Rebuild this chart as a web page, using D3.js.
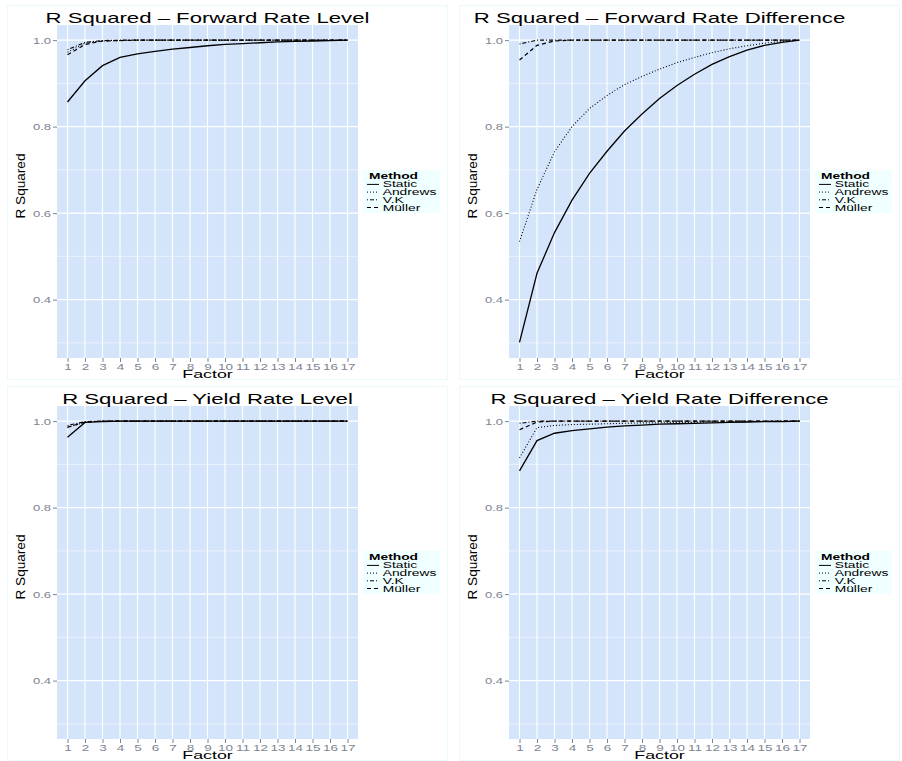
<!DOCTYPE html>
<html>
<head>
<meta charset="utf-8">
<script src="https://cdn.jsdelivr.net/npm/d3@7"></script>
<style>
  body { margin: 0; background: #fff; }
  svg { display: block; font-family: "Liberation Sans", Arial, sans-serif; }
</style>
</head>
<body>
<svg id="chart" width="902" height="761"></svg>
<script>
// categories and ticks
const factors = ["1","2","3","4","5","6","7","8","9","10","11","12","13","14","15","16","17"];
const methods = ["Static", "Andrews", "V.K", "Müller"];
const yTicks = [0.4, 0.6, 0.8, 1.0];
const yMinor = [0.3, 0.5, 0.7, 0.9];

// R squared - forward rate level
const fwdLevelStatic  = [0.857,0.906,0.941,0.960,0.968,0.974,0.979,0.983,0.987,0.990,0.992,0.994,0.996,0.997,0.998,0.999,1.000];
const fwdLevelAndrews = [0.972,0.993,0.998,0.999,1.000,1.000,1.000,1.000,1.000,1.000,1.000,1.000,1.000,1.000,1.000,1.000,1.000];
const fwdLevelVK      = [0.978,0.995,0.999,1.000,1.000,1.000,1.000,1.000,1.000,1.000,1.000,1.000,1.000,1.000,1.000,1.000,1.000];
const fwdLevelMuller  = [0.966,0.990,0.998,0.999,1.000,1.000,1.000,1.000,1.000,1.000,1.000,1.000,1.000,1.000,1.000,1.000,1.000];

// R squared - forward rate difference
const fwdDiffStatic  = [0.301,0.461,0.555,0.630,0.692,0.743,0.790,0.829,0.865,0.895,0.921,0.944,0.962,0.977,0.988,0.995,1.000];
const fwdDiffAndrews = [0.534,0.655,0.742,0.800,0.842,0.872,0.897,0.916,0.933,0.948,0.960,0.971,0.980,0.987,0.993,0.997,1.000];
const fwdDiffVK      = [0.991,1.000,1.000,1.000,1.000,1.000,1.000,1.000,1.000,1.000,1.000,1.000,1.000,1.000,1.000,1.000,1.000];
const fwdDiffMuller  = [0.954,0.988,0.998,1.000,1.000,1.000,1.000,1.000,1.000,1.000,1.000,1.000,1.000,1.000,1.000,1.000,1.000];

// R squared - yield rate level
const yldLevelStatic  = [0.963,0.997,0.999,1.000,1.000,1.000,1.000,1.000,1.000,1.000,1.000,1.000,1.000,1.000,1.000,1.000,1.000];
const yldLevelAndrews = [0.985,0.998,1.000,1.000,1.000,1.000,1.000,1.000,1.000,1.000,1.000,1.000,1.000,1.000,1.000,1.000,1.000];
const yldLevelVK      = [0.990,0.999,1.000,1.000,1.000,1.000,1.000,1.000,1.000,1.000,1.000,1.000,1.000,1.000,1.000,1.000,1.000];
const yldLevelMuller  = [0.986,0.998,1.000,1.000,1.000,1.000,1.000,1.000,1.000,1.000,1.000,1.000,1.000,1.000,1.000,1.000,1.000];

// R squared - yield rate difference
const yldDiffStatic  = [0.885,0.955,0.972,0.978,0.982,0.986,0.989,0.991,0.993,0.994,0.995,0.996,0.997,0.998,0.999,0.999,1.000];
const yldDiffAndrews = [0.915,0.985,0.990,0.992,0.993,0.994,0.995,0.996,0.996,0.997,0.997,0.998,0.998,0.999,0.999,1.000,1.000];
const yldDiffVK      = [0.995,1.000,1.000,1.000,1.000,1.000,1.000,1.000,1.000,1.000,1.000,1.000,1.000,1.000,1.000,1.000,1.000];
const yldDiffMuller  = [0.980,0.998,1.000,1.000,1.000,1.000,1.000,1.000,1.000,1.000,1.000,1.000,1.000,1.000,1.000,1.000,1.000];

const panels = [
  { title: "R Squared \u2013 Forward Rate Level", ox: 0, oy: 0,
    series: [fwdLevelStatic, fwdLevelAndrews, fwdLevelVK, fwdLevelMuller] },
  { title: "R Squared \u2013 Forward Rate Difference", ox: 452, oy: 0,
    series: [fwdDiffStatic, fwdDiffAndrews, fwdDiffVK, fwdDiffMuller] },
  { title: "R Squared \u2013 Yield Rate Level", ox: 0, oy: 381,
    series: [yldLevelStatic, yldLevelAndrews, yldLevelVK, yldLevelMuller] },
  { title: "R Squared \u2013 Yield Rate Difference", ox: 452, oy: 381,
    series: [yldDiffStatic, yldDiffAndrews, yldDiffVK, yldDiffMuller] }
];

const dashes = { "Static": null, "Andrews": "1,2", "V.K": "1,2,4,2", "Müller": "4,3" };
const widths = { "Static": 1.3, "Andrews": 1.1, "V.K": 1.1, "Müller": 1.2 };
const tickColor = "#7d8492";

const svg = d3.select("#chart");

// panel area inside each plot
const pLeft = 57, pRight = 358, pTop = 25, pBottom = 358;

panels.forEach(p => {
  const g = svg.append("g").attr("transform", `translate(${p.ox},${p.oy})`);

  // plot background border
  g.append("rect")
    .attr("x", 7.5).attr("y", 5.5).attr("width", 440).attr("height", 374)
    .attr("fill", "none").attr("stroke", "#eafafa");

  const x = d3.scalePoint().domain(factors).range([pLeft, pRight]).padding(0.6);
  const y = d3.scaleLinear().domain([0.265, 1.035]).range([pBottom, pTop]);

  g.append("rect")
    .attr("x", pLeft).attr("y", pTop)
    .attr("width", pRight - pLeft).attr("height", pBottom - pTop)
    .attr("fill", "#d4e5fb");

  // grid
  g.selectAll(".minor").data(yMinor).join("line")
    .attr("x1", pLeft).attr("x2", pRight)
    .attr("y1", d => y(d)).attr("y2", d => y(d))
    .attr("stroke", "#fff").attr("stroke-width", 0.5);
  g.selectAll(".hmajor").data(yTicks).join("line")
    .attr("x1", pLeft).attr("x2", pRight)
    .attr("y1", d => y(d)).attr("y2", d => y(d))
    .attr("stroke", "#fff").attr("stroke-width", 1.1);
  g.selectAll(".vmajor").data(factors).join("line")
    .attr("x1", d => x(d)).attr("x2", d => x(d))
    .attr("y1", pTop).attr("y2", pBottom)
    .attr("stroke", "#fff").attr("stroke-width", 1.1);

  // lines
  const line = d3.line().x((d, i) => x(factors[i])).y(d => y(d));
  p.series.forEach((vals, k) => {
    const m = methods[k];
    g.append("path")
      .datum(vals)
      .attr("d", line)
      .attr("fill", "none")
      .attr("stroke", "#000")
      .attr("stroke-width", widths[m])
      .attr("stroke-dasharray", dashes[m]);
  });

  // y axis
  const ya = g.append("g").attr("transform", `translate(${pLeft},0)`)
    .call(d3.axisLeft(y).tickValues(yTicks).tickFormat(d3.format(".1f")).tickSize(4).tickPadding(2));
  ya.attr("font-family", null).attr("font-size", null);
  ya.select(".domain").remove();
  ya.selectAll("line").attr("stroke", tickColor);
  ya.selectAll("text")
    .attr("fill", tickColor).style("font-size", "9px")
    .attr("x", -6 / 1.45).attr("transform", "scale(1.45,1)");

  // x axis
  const xa = g.append("g").attr("transform", `translate(0,${pBottom})`)
    .call(d3.axisBottom(x).tickSize(4).tickPadding(1.5));
  xa.attr("font-family", null).attr("font-size", null);
  xa.select(".domain").remove();
  xa.selectAll("line").attr("stroke", tickColor);
  xa.selectAll("text")
    .attr("fill", tickColor).style("font-size", "9px")
    .attr("transform", "scale(1.5,1)");

  // titles
  g.append("text")
    .attr("transform", `translate(${(pLeft + pRight) / 2},23) scale(1.55,1)`)
    .attr("text-anchor", "middle")
    .style("font-size", "14.3px")
    .text(p.title);

  g.append("text")
    .attr("transform", `translate(${(pLeft + pRight) / 2},378) scale(1.55,1)`)
    .attr("text-anchor", "middle")
    .style("font-size", "11.5px")
    .text("Factor");

  g.append("text")
    .attr("transform", `translate(25,186) rotate(-90) scale(1,0.95)`)
    .attr("text-anchor", "middle")
    .style("font-size", "13.6px")
    .text("R Squared");

  // legend
  const lg = g.append("g").attr("transform", "translate(363,170)");
  lg.append("rect").attr("width", 77).attr("height", 43).attr("fill", "#f0ffff");
  lg.append("text")
    .attr("transform", "translate(6,8.5) scale(1.5,1)")
    .style("font-size", "9.2px").style("font-weight", "bold")
    .text("Method");
  methods.forEach((m, i) => {
    const by = 17.4 + i * 7.7;
    lg.append("line")
      .attr("x1", 4).attr("x2", 16)
      .attr("y1", by - 3).attr("y2", by - 3)
      .attr("stroke", "#000").attr("stroke-width", 1)
      .attr("stroke-dasharray", dashes[m]);
    lg.append("text")
      .attr("transform", `translate(19.7,${by}) scale(1.5,1)`)
      .style("font-size", "9.2px")
      .text(m);
  });
});
</script>
</body>
</html>
